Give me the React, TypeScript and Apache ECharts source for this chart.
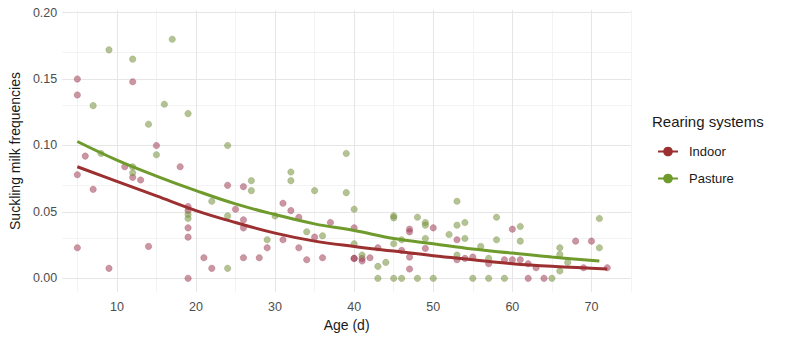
import React, { useEffect, useRef } from "react";
import * as echarts from "echarts";

// Indoor observations (age in days, suckling milk frequency)
const indoorAge = [
  5, 5, 5, 5, 6, 7, 9, 11, 12, 12, 13, 14, 15, 18, 19, 19, 19, 19, 19, 21, 22, 24, 25, 26, 26, 26, 26, 28, 29,
  31, 31, 32, 33, 33, 34, 35, 36, 37, 40, 40, 40, 41, 41, 42, 43, 46, 47, 47, 47, 47, 49, 50, 53, 53, 54, 55,
  57, 59, 60, 60, 61, 62, 62, 63, 64, 68, 69, 70, 72,
];
const indoorFreq = [
  0.15, 0.138, 0.078, 0.023, 0.092, 0.067, 0.0075, 0.084, 0.148, 0.076, 0.074, 0.024, 0.1, 0.084, 0.054, 0.051,
  0.038, 0.031, 0.0, 0.0155, 0.0075, 0.07, 0.052, 0.069, 0.044, 0.038, 0.0155, 0.0155, 0.023, 0.0565, 0.029,
  0.051, 0.046, 0.023, 0.014, 0.031, 0.0155, 0.042, 0.038, 0.015, 0.015, 0.015, 0.013, 0.0155, 0.023, 0.021,
  0.037, 0.035, 0.016, 0.007, 0.0225, 0.038, 0.029, 0.014, 0.015, 0.016, 0.011, 0.014, 0.037, 0.014, 0.014,
  0.011, 0.0, 0.008, 0.0, 0.028, 0.008, 0.028, 0.008,
];

// Pasture observations
const pastureAge = [
  7, 8, 9, 12, 12, 12, 14, 15, 16, 17, 19, 19, 19, 22, 24, 24, 24, 27, 27, 29, 30, 32, 32, 34, 35, 36, 39, 39,
  40, 40, 41, 43, 43, 44, 45, 45, 45, 45, 46, 46, 48, 48, 49, 49, 49, 50, 52, 53, 53, 53, 54, 54, 55, 56, 57,
  57, 58, 58, 59, 61, 61, 65, 66, 66, 66, 67, 71, 71,
];
const pastureFreq = [
  0.13, 0.094, 0.172, 0.165, 0.084, 0.0795, 0.116, 0.093, 0.131, 0.18, 0.124, 0.048, 0.045, 0.058, 0.1, 0.047,
  0.0075, 0.0735, 0.066, 0.029, 0.047, 0.08, 0.0735, 0.035, 0.066, 0.032, 0.094, 0.0645, 0.052, 0.026, 0.0175,
  0.009, 0.0, 0.012, 0.047, 0.0455, 0.026, 0.0, 0.029, 0.0, 0.046, 0.0, 0.042, 0.04, 0.03, 0.0, 0.033, 0.058,
  0.04, 0.0175, 0.042, 0.03, 0.0, 0.024, 0.015, 0.0, 0.046, 0.029, 0.0, 0.039, 0.028, 0.0, 0.023, 0.018,
  0.0055, 0.012, 0.045, 0.023,
];

// Smoothed trend curves
const smoothAgeIndoor = [5, 10, 15, 20, 25, 30, 35, 40, 45, 50, 55, 60, 65, 72];
const smoothIndoor = [0.084, 0.073, 0.062, 0.051, 0.042, 0.034, 0.028, 0.024, 0.0205, 0.017, 0.014, 0.011, 0.009, 0.007];
const smoothAgePasture = [5, 10, 15, 20, 25, 30, 35, 40, 45, 50, 55, 60, 65, 71];
const smoothPasture = [0.103, 0.089, 0.077, 0.066, 0.056, 0.048, 0.041, 0.036, 0.030, 0.026, 0.022, 0.019, 0.016, 0.013];

// Axis ticks
const xTicks = [10, 20, 30, 40, 50, 60, 70];
const xMinor = [5, 15, 25, 35, 45, 55, 65, 75];
const yTicks = [0, 0.05, 0.1, 0.15, 0.2];
const yMinor = [0.025, 0.075, 0.125, 0.175];

const FONT = "'Liberation Sans', Arial, sans-serif";

export default function App() {
  const ref = useRef<HTMLDivElement>(null);

  useEffect(() => {
    document.body.style.margin = "0";
    if (!ref.current) return;
    const chart = echarts.init(ref.current, null, { renderer: "svg" });

    const zip = (a: number[], b: number[]) => a.map((v, i) => [v, b[i]]);

    const minorStyle = { color: "#f3f3f3", width: 1, type: "solid" };
    const majorStyle = { color: "#e6e6e6", width: 1, type: "solid" };
    const gridLines = [
      ...xMinor.map((v) => ({ xAxis: v, lineStyle: minorStyle })),
      ...yMinor.map((v) => ({ yAxis: v, lineStyle: minorStyle })),
      ...xTicks.map((v) => ({ xAxis: v, lineStyle: majorStyle })),
      ...yTicks.map((v) => ({ yAxis: v, lineStyle: majorStyle })),
    ];

    chart.setOption({
      animation: false,
      textStyle: { fontFamily: FONT },
      title: {
        text: "Rearing systems",
        left: 652,
        top: 114,
        padding: 0,
        textStyle: { fontFamily: FONT, fontSize: 15, fontWeight: "normal", color: "#1a1a1a" },
      },
      legend: {
        data: ["Indoor", "Pasture"],
        orient: "vertical",
        left: 657,
        top: 145,
        padding: 0,
        itemWidth: 20,
        itemHeight: 12,
        itemGap: 14,
        textStyle: { fontFamily: FONT, fontSize: 13, color: "#1a1a1a", padding: [0, 0, 0, 6] },
      },
      grid: { left: 61, right: 154, top: 10, bottom: 49, containLabel: false },
      xAxis: {
        type: "value",
        min: 3.09,
        max: 75,
        name: "Age (d)",
        nameLocation: "middle",
        nameGap: 26,
        nameTextStyle: { fontFamily: FONT, fontSize: 14, color: "#1a1a1a" },
        axisLine: { show: false },
        axisTick: { show: false },
        splitLine: { show: false },
        axisLabel: {
          customValues: xTicks,
          color: "#4d4d4d",
          fontSize: 12.5,
          margin: 8,
          fontFamily: FONT,
        },
      },
      yAxis: {
        type: "value",
        min: -0.0103,
        max: 0.202,
        name: "Suckling milk frequencies",
        nameLocation: "middle",
        nameGap: 38,
        nameTextStyle: { fontFamily: FONT, fontSize: 14, color: "#1a1a1a" },
        axisLine: { show: false },
        axisTick: { show: false },
        splitLine: { show: false },
        axisLabel: {
          customValues: yTicks,
          formatter: (v: number) => v.toFixed(2),
          color: "#4d4d4d",
          fontSize: 12.5,
          margin: 5,
          fontFamily: FONT,
        },
      },
      series: [
        {
          name: "grid",
          type: "line",
          data: [],
          silent: true,
          z: 0,
          markLine: {
            silent: true,
            z: 0,
            symbol: "none",
            label: { show: false },
            animation: false,
            emphasis: { disabled: true },
            data: gridLines,
          },
        },
        {
          name: "Indoor points",
          type: "scatter",
          data: zip(indoorAge, indoorFreq),
          symbolSize: 6.5,
          z: 2,
          itemStyle: { color: "rgba(160, 60, 85, 0.68)", borderColor: "rgba(140, 50, 75, 0.5)", borderWidth: 0.6 },
        },
        {
          name: "Pasture points",
          type: "scatter",
          data: zip(pastureAge, pastureFreq),
          symbolSize: 6.5,
          z: 2,
          itemStyle: { color: "rgba(118, 145, 58, 0.68)", borderColor: "rgba(100, 128, 48, 0.5)", borderWidth: 0.6 },
        },
        {
          name: "Indoor",
          type: "line",
          smooth: 0.4,
          data: zip(smoothAgeIndoor, smoothIndoor),
          showSymbol: false,
          symbol: "circle",
          symbolSize: 5,
          z: 3,
          itemStyle: { color: "#9c2f2f" },
          lineStyle: { color: "#9c2f2f", width: 3 },
        },
        {
          name: "Pasture",
          type: "line",
          smooth: 0.4,
          data: zip(smoothAgePasture, smoothPasture),
          showSymbol: false,
          symbol: "circle",
          symbolSize: 5,
          z: 3,
          itemStyle: { color: "#6f9a2c" },
          lineStyle: { color: "#6f9a2c", width: 3 },
        },
      ],
    });

    return () => chart.dispose();
  }, []);

  return <div ref={ref} style={{ width: 785, height: 341 }} />;
}
